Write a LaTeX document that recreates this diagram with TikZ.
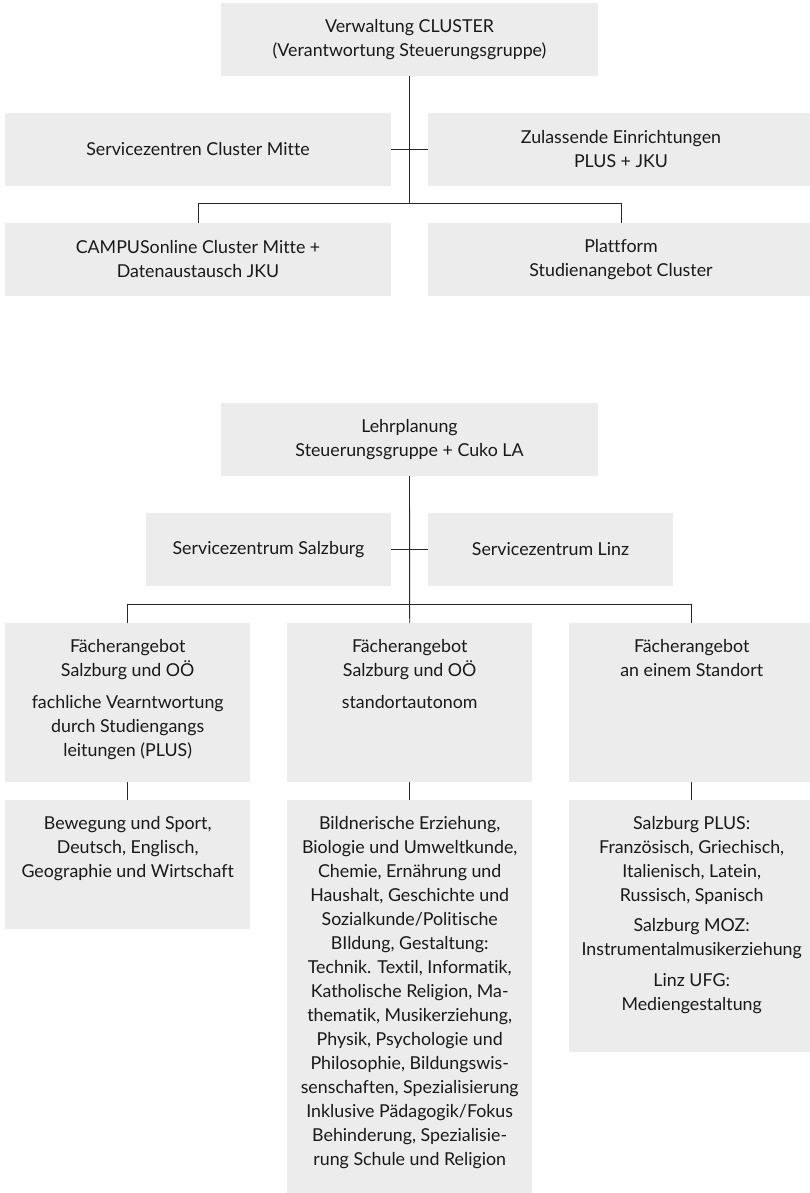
\documentclass[tikz,border=0pt]{standalone}
\usepackage{fontspec}
\setmainfont{Lato}[Ligatures=NoCommon]
\definecolor{boxgray}{RGB}{236,236,236}
\definecolor{txtcol}{RGB}{25,25,25}
\definecolor{lncol}{RGB}{40,40,40}
\newcommand{\tbox}[4]{\begin{minipage}[t][#2][t]{#1}\centering\vspace*{#3}\strut #4\end{minipage}}
\begin{document}
\begin{tikzpicture}[x=1pt,y=-1pt,
  box/.style={fill=boxgray, inner sep=0pt, text=txtcol, font=\fontsize{17.8pt}{24pt}\selectfont},
  cbox/.style={box, align=center, minimum height=73pt},
  wide/.style={cbox, minimum width=386pt},
  mid/.style={cbox, minimum width=245pt},
  conn/.style={draw=lncol, line width=0.9pt}]
\useasboundingbox (0,0) rectangle (810,1193);
% ---------- upper chart ----------
\node[cbox, minimum width=377pt] (top) at (409.5,39.5) {Verwaltung CLUSTER\\(Verantwortung Steuerungsgruppe)};
\node[wide] (sc1) at (198,149.5) {Servicezentren Cluster Mitte};
\node[wide] (za) at (621,149.5) {Zulassende Einrichtungen\\PLUS + JKU};
\node[wide] (campus) at (198,259.5) {CAMPUSonline Cluster Mitte +\\Datenaustausch JKU};
\node[wide] (platt) at (621,259.5) {Plattform\\Studienangebot Cluster};
\coordinate (j1) at (409.5,204);
\draw[conn] (top.south) -- (j1);
\draw[conn] (sc1.east) -- (za.west);
\draw[conn] (campus.north) -- ++(0,-19) -| (platt.north);
% ---------- lower chart ----------
\node[cbox, minimum width=377pt] (lehr) at (409.5,439.5) {Lehrplanung\\Steuerungsgruppe + Cuko LA};
\node[mid] (sz) at (268.5,549.5) {Servicezentrum Salzburg};
\node[mid] (sl) at (550.5,549.5) {Servicezentrum Linz};
\node[box, anchor=north west] (f1) at (5,623) {\tbox{245pt}{159pt}{12pt}{Fächerangebot\\Salzburg und OÖ\\[8pt]fachliche Vearntwortung\\durch Studiengangs\\leitungen (PLUS)}};
\node[box, anchor=north west] (f2) at (287,623) {\tbox{245pt}{159pt}{12pt}{Fächerangebot\\Salzburg und OÖ\\[8pt]standortautonom}};
\node[box, anchor=north west] (f3) at (569,623) {\tbox{245pt}{159pt}{12pt}{Fächerangebot\\an einem Standort}};
\node[box, anchor=north west] (g1) at (5,800) {\tbox{245pt}{129pt}{12.4pt}{Bewegung und Sport,\\Deutsch, Englisch,\\Geographie und Wirtschaft}};
\node[box, anchor=north west] (g2) at (287,800) {\tbox{245pt}{400pt}{12.4pt}{Bildnerische Erziehung,\\Biologie und Umweltkunde,\\Chemie, Ernährung und\\Haushalt, Geschichte und\\Sozialkunde/Politische\\BIldung, Gestaltung:\\Technik. Textil, Informatik,\\Katholische Religion, Ma-\\thematik, Musikerziehung,\\Physik, Psychologie und\\Philosophie, Bildungswis-\\senschaften, Spezialisierung\\Inklusive Pädagogik/Fokus\\Behinderung, Spezialisie-\\rung Schule und Religion}};
\node[box, anchor=north west] (g3) at (569,800) {\tbox{245pt}{252pt}{12.4pt}{Salzburg PLUS:\\Französisch, Griechisch,\\Italienisch, Latein,\\Russisch, Spanisch\\[6pt]Salzburg MOZ:\\Instrumentalmusikerziehung\\[7pt]Linz UFG:\\Mediengestaltung}};
\draw[conn] (lehr.south) -- (f2.north);
\draw[conn] (sz.east) -- (sl.west);
\draw[conn] (f1.north) -- ++(0,-19) -| (f3.north);
\draw[conn] (f1.south) -- (g1.north);
\draw[conn] (f2.south) -- (g2.north);
\draw[conn] (f3.south) -- (g3.north);
\end{tikzpicture}
\end{document}
